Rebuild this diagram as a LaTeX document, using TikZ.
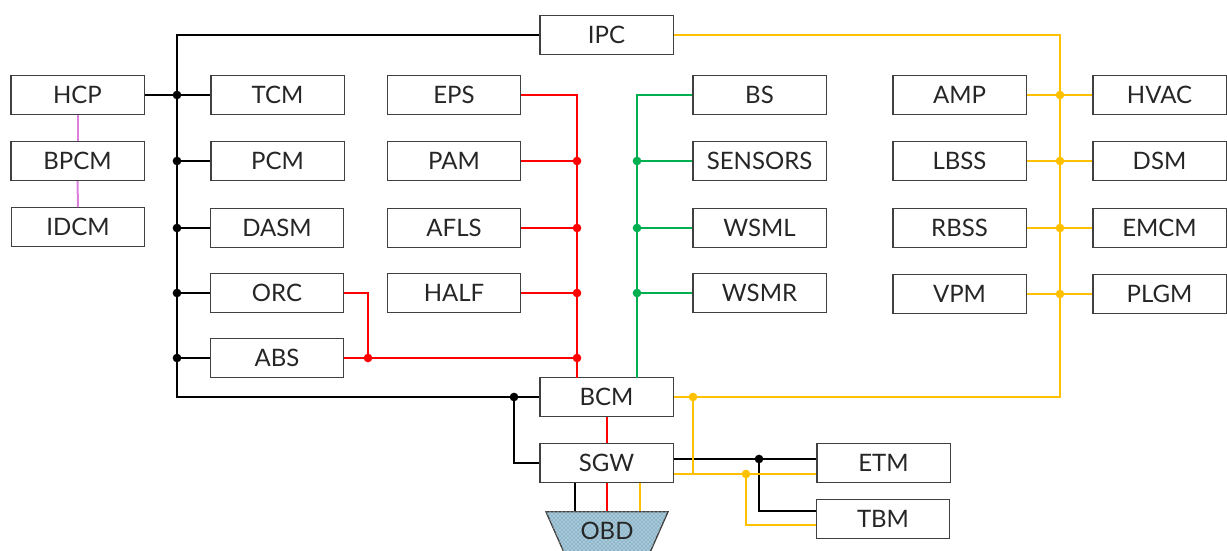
\documentclass[tikz,border=0pt]{standalone}
\usepackage{xcolor}
\usepackage{fontspec}
\setmainfont{Lato}
\usetikzlibrary{shapes.geometric,patterns,positioning}
\definecolor{busRed}{HTML}{FF0000}
\definecolor{busGreen}{HTML}{00B050}
\definecolor{busYellow}{HTML}{FFC000}
\definecolor{busPink}{HTML}{DD7FDD}
\definecolor{boxGray}{HTML}{404040}
\definecolor{obdBlue}{HTML}{8FB8CC}
\tikzset{
	ecu/.style={draw=boxGray,line width=1pt,fill=white,minimum width=100pt,minimum height=29pt,inner sep=0pt,font=\fontsize{18}{20}\selectfont,text=black!85},
	wire/.style={line width=1.5pt,line join=miter},
	jdot/.style={circle,fill=#1,inner sep=0pt,minimum size=6.5pt}
}
\begin{document}
\begin{tikzpicture}[x=0.75pt,y=-0.75pt]
			\useasboundingbox(0,0)rectangle(1227,550);
			% modules
			\foreach \nm/\x/\y in{
				HCP/77.5/95,BPCM/77.5/161,IDCM/78/227,
				TCM/277.5/95,PCM/277.5/161,DASM/277/228,ORC/277/293,ABS/277/358,
				EPS/454/95,PAM/454/161,AFLS/454/228,HALF/454/293,
				BS/759.5/95,SENSORS/759.5/161,WSML/759.5/228,WSMR/759.5/293,
				AMP/959.5/95,LBSS/959.5/161,RBSS/959.5/228,VPM/959.5/294,
				HVAC/1159.5/95,DSM/1159.5/161,EMCM/1159.5/228,PLGM/1159.5/294,
				IPC/606.5/35,BCM/606.5/397,SGW/606.5/463,ETM/883.5/463,TBM/883/519}
			{
				\node[ecu](\nm)at(\x,\y){\nm};
			}
			\node[trapezium,shape border rotate=180,trapezium stretches=true,trapezium left angle=60,trapezium right angle=60,
				draw=boxGray,line width=1pt,minimum width=92pt,minimum height=40*0.75pt,inner sep=0pt,fill=obdBlue,
				postaction={pattern=crosshatch dots,pattern color=white},anchor=north,font=\fontsize{18}{20}\selectfont,text=black!85]
				(OBD)at(607,511){\raisebox{1pt}{OBD}};
			% junctions
			\foreach \nm/\x/\y/\col in{
				kA/177/95/black,kB/177/161/black,kC/177/228/black,kD/177/293/black,kE/177/358/black,
				kF/514/397/black,kG/759/459/black,
				rA/577/161/busRed,rB/577/228/busRed,rC/577/293/busRed,rD/577/358/busRed,rE/368/358/busRed,
				gA/637/161/busGreen,gB/637/228/busGreen,gC/637/293/busGreen,
				yA/1060/95/busYellow,yB/1060/161/busYellow,yC/1060/228/busYellow,yD/1060/294/busYellow,
				yE/693/397/busYellow,yF/746/474/busYellow}
			{
				\node[jdot=\col](\nm)at(\x,\y){};
			}
			\coordinate(kG')at(759,511);
			\coordinate(yF')at(746,525);
			% black bus
			\draw[wire](IPC.west)--(177,35)--(177,397)--(BCM.west);
			\draw[wire](HCP.east)--(TCM.west);
			\foreach \a/\b in{kB/PCM,kC/DASM,kD/ORC,kE/ABS}{
				\draw[wire](\a.center)--(\b.west);
			}
			\draw[wire](kF.center)|-(SGW.west);
			\draw[wire](SGW.east|-kG)--(ETM.west|-kG);
			\draw[wire](kG.center)--(kG')--(TBM.west|-kG');
			% red bus
			\draw[wire,busRed](EPS.east)-|(577,378);
			\foreach \a/\b in{PAM/rA,AFLS/rB,HALF/rC}{
				\draw[wire,busRed](\a.east)--(\b.center);
			}
			\draw[wire,busRed](ABS.east)--(rD.center);
			\draw[wire,busRed](ORC.east)-|(rE.center);
			\draw[wire,busRed](BCM)--(SGW);
			% green bus
			\draw[wire,busGreen](BS.west)-|(637,378);
			\foreach \a/\b in{SENSORS/gA,WSML/gB,WSMR/gC}{
				\draw[wire,busGreen](\a.west)--(\b.center);
			}
			% yellow bus
			\draw[wire,busYellow](IPC.east)-|(1060,397)--(BCM.east);
			\foreach \a/\b in{AMP/HVAC,LBSS/DSM,RBSS/EMCM,VPM/PLGM}{
				\draw[wire,busYellow](\a.east)--(\b.west);
			}
			\draw[wire,busYellow](yE.center)--(yE|-yF);
			\draw[wire,busYellow](SGW.east|-yF)--(ETM.west|-yF);
			\draw[wire,busYellow](yF.center)--(yF')--(TBM.west|-yF');
			% diagnostics
			\draw[wire,busPink](HCP)--(BPCM);
			\draw[wire,busPink](BPCM)--(IDCM);
			\draw[wire](SGW.south-|575,0)--(OBD.north-|575,0);
			\draw[wire,busRed](SGW.south-|607,0)--(OBD.north-|607,0);
			\draw[wire,busYellow](SGW.south-|640,0)--(OBD.north-|640,0);
		\end{tikzpicture}
\end{document}
